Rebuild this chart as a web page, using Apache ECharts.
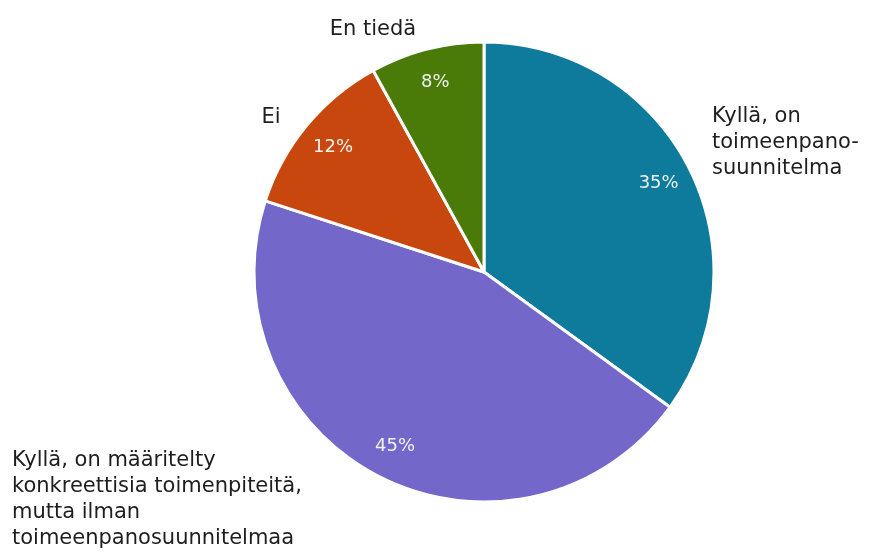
<!DOCTYPE html>
<html>
<head>
<meta charset="utf-8">
<script src="https://cdn.jsdelivr.net/npm/echarts@6/dist/echarts.min.js"></script>
<style>
  html, body { margin: 0; padding: 0; background: #fff; }
  #chart { width: 880px; height: 552px; }
</style>
</head>
<body>
<div id="chart"></div>
<script>
// vastaukset, myötäpäivään klo 12:sta
const categories = [
  'Kyllä, on\ntoimeenpano-\nsuunnitelma',
  'Kyllä, on määritelty\nkonkreettisia toimenpiteitä,\nmutta ilman\ntoimeenpanosuunnitelmaa',
  'Ei',
  'En tiedä'
];
const shares = [35, 45, 12, 8];
const colors = ['#0e7a9c', '#7367c9', '#c8470e', '#4a7a08'];

// nimilabelien paikat (x, y, tasaus)
const namePos = [
  [712, 143, 'left'],
  [12, 500, 'left'],
  [271, 118, 'center'],
  [373, 30, 'center']
];

const font = 'DejaVu Sans';
const chart = echarts.init(document.getElementById('chart'));

const pieData = categories.map((c, i) => ({
  name: c,
  value: shares[i],
  itemStyle: { color: colors[i] }
}));

chart.setOption({
  animation: false,
  series: [
    {
      type: 'pie',
      center: [484, 272],
      radius: [0, 230],
      startAngle: 90,
      clockwise: true,
      itemStyle: { borderColor: '#fff', borderWidth: 3 },
      label: {
        show: true,
        position: 'outside',
        formatter: '{b}',
        color: '#1e1e1e',
        fontFamily: font,
        fontSize: 21,
        lineHeight: 26,
        overflow: 'none',
        width: 400
      },
      labelLine: { show: false },
      labelLayout: function (p) {
        const pos = namePos[p.dataIndex];
        return { x: pos[0], y: pos[1], align: pos[2], verticalAlign: 'middle' };
      },
      emphasis: { disabled: true },
      data: pieData
    },
    {
      // läpinäkyvä rengas prosenttilabeleille
      type: 'pie',
      center: [484, 272],
      radius: [156, 230],
      startAngle: 90,
      clockwise: true,
      silent: true,
      itemStyle: { color: 'rgba(0,0,0,0)', borderWidth: 0 },
      label: {
        show: true,
        position: 'inside',
        formatter: '{c}%',
        color: '#eef3ee',
        fontFamily: font,
        fontSize: 18
      },
      labelLine: { show: false },
      emphasis: { disabled: true },
      data: categories.map((c, i) => ({ name: c, value: shares[i] }))
    }
  ]
});
</script>
</body>
</html>
